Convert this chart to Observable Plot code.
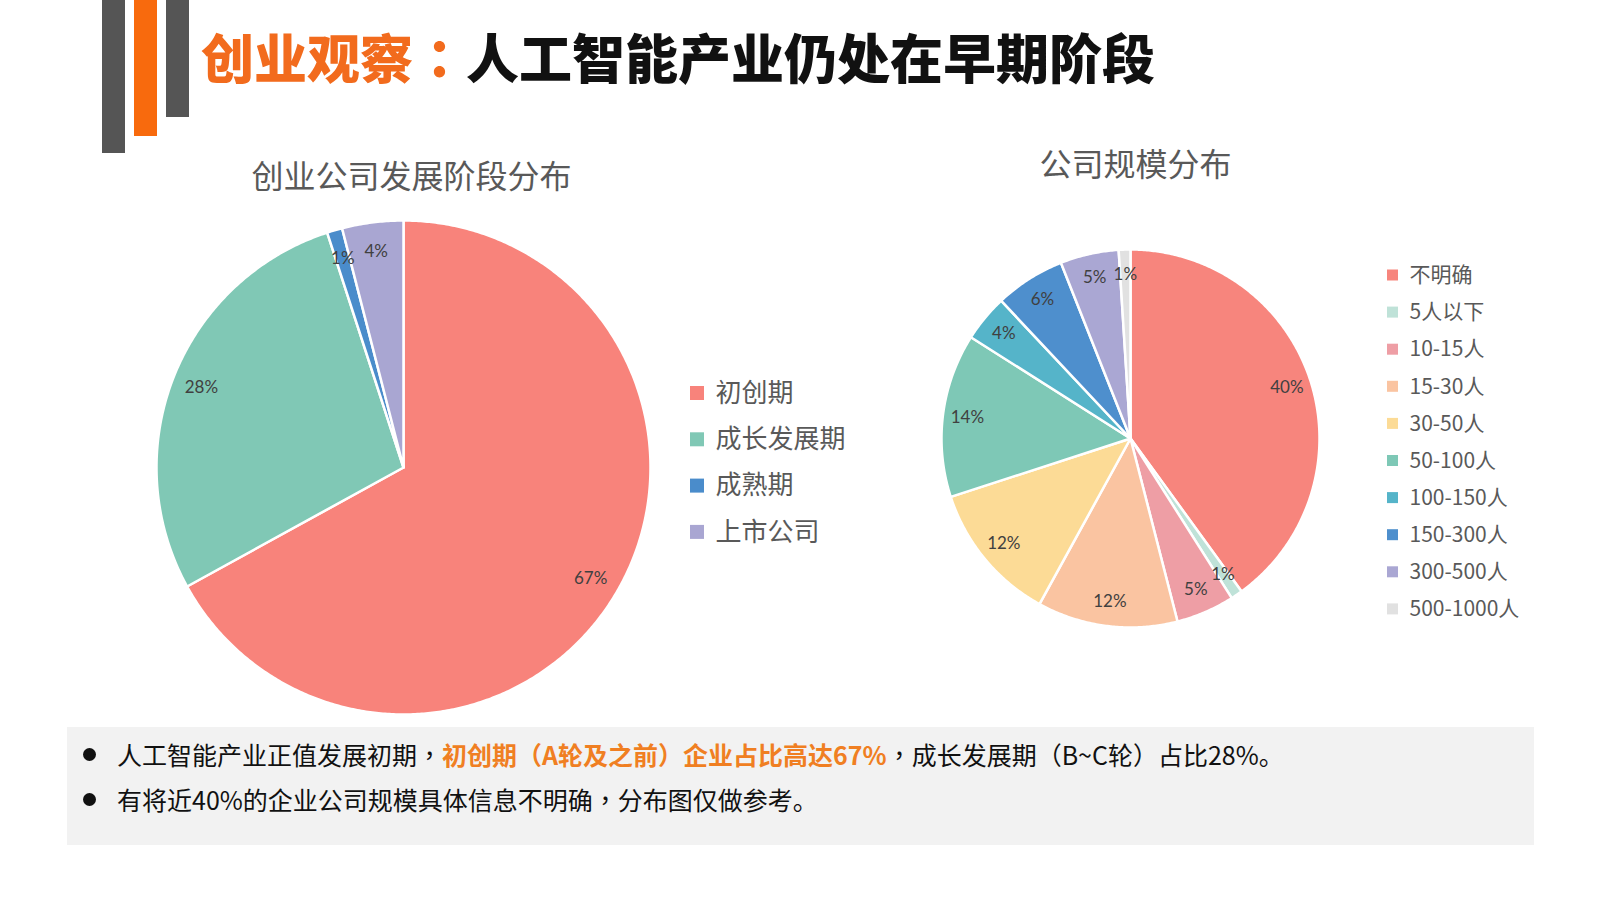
<!DOCTYPE html>
<html>
<head>
<meta charset="utf-8">
<script src="https://cdn.jsdelivr.net/npm/d3@7"></script>
<script src="https://cdn.jsdelivr.net/npm/@observablehq/plot@0.6"></script>
<style>
  html, body { margin: 0; padding: 0; }
  body { width: 1600px; height: 900px; background: #ffffff; position: relative; overflow: hidden;
         font-family: "Noto Sans CJK SC", "Noto Sans", sans-serif; }
  .bar { position: absolute; top: 0; }
  #title { position: absolute; left: 201px; top: 30px; font-size: 53px; line-height: 53px; font-weight: 900;
           color: #111111; white-space: nowrap; letter-spacing: 0px; }
  #title .o { color: #f26b1d; }
  .p { font-family: "Noto Sans CJK TC", "Noto Sans CJK SC", sans-serif; }
  #chart { position: absolute; left: 0; top: 0; }
  #box { position: absolute; left: 67px; top: 727px; width: 1467px; height: 118px; background: #f2f2f2; }
  .line { position: absolute; left: 117px; font-size: 25px; line-height: 30px; color: #111111; white-space: nowrap; }
  .line b { color: #f07f22; font-weight: 700; }
  .dot { position: absolute; left: 83px; width: 13px; height: 13px; border-radius: 50%; background: #111; }
</style>
</head>
<body>
<div class="bar" style="left:102px;width:23px;height:153px;background:#555555"></div>
<div class="bar" style="left:134px;width:23px;height:136px;background:#f86a0d"></div>
<div class="bar" style="left:166px;width:23px;height:117px;background:#555555"></div>
<div id="title"><span class="o">创业观察<span class="p">：</span></span>人工智能产业仍处在早期阶段</div>
<div id="box"></div>
<div class="dot" style="top:748px"></div>
<div class="dot" style="top:793px"></div>
<div class="line" style="top:739px">人工智能产业正值发展初期<span class="p">，</span><b>初创期（A轮及之前）企业占比高达67%</b><span class="p">，</span>成长发展期（B~C轮）占比28%。</div>
<div class="line" style="top:784px">有将近40%的企业公司规模具体信息不明确<span class="p">，</span>分布图仅做参考。</div>
<div id="chart"></div>
<script>
// ---- data ----
const stageTitle = "创业公司发展阶段分布";
const stageNames = ["初创期", "成长发展期", "成熟期", "上市公司"];
const stageShares = [67, 28, 1, 4];
const stageColors = ["#f8837b", "#80c8b5", "#4a8ccb", "#a9a6d2"];

const sizeTitle = "公司规模分布";
const sizeNames = ["不明确", "5人以下", "10-15人", "15-30人", "30-50人", "50-100人", "100-150人", "150-300人", "300-500人", "500-1000人"];
const sizeShares = [40, 1, 5, 12, 12, 14, 4, 6, 5, 1];
const sizeColors = ["#f7857d", "#bfe2d8", "#ee9ea5", "#fac4a1", "#fcdb96", "#7ec8b6", "#55b4c9", "#4e8fcd", "#aaa7d3", "#e1e1e1"];

// ---- layout ----
const L = {cx: 403, cy: 467, r: 247};
const R = {cx: 1130, cy: 438, r: 189};

function slicePoints(names, values, c) {
  const arcs = d3.pie().sort(null).value(d => d)(values);
  const pts = [];
  arcs.forEach((a, i) => {
    pts.push({name: names[i], x: c.cx, y: c.cy});
    const n = Math.max(2, Math.ceil((a.endAngle - a.startAngle) / (Math.PI / 360)));
    for (let k = 0; k <= n; k++) {
      const t = a.startAngle + (a.endAngle - a.startAngle) * k / n;
      pts.push({name: names[i], x: c.cx + c.r * Math.sin(t), y: c.cy - c.r * Math.cos(t)});
    }
  });
  return pts;
}
function labelPoints(names, values, c, k) {
  const arcs = d3.pie().sort(null).value(d => d)(values);
  return arcs.map((a, i) => {
    const t = (a.startAngle + a.endAngle) / 2;
    return {name: names[i], label: values[i] + "%", x: c.cx + k * c.r * Math.sin(t), y: c.cy - k * c.r * Math.cos(t)};
  });
}

const leftPts = slicePoints(stageNames, stageShares, L);
const rightPts = slicePoints(sizeNames, sizeShares, R);
const leftLabels = labelPoints(stageNames, stageShares, L, 0.88);
const rightLabels = labelPoints(sizeNames, sizeShares, R, 0.87);

const legL = {x: 690, tx: 715, y0: 393, dy: 46.3, s: 14};
const legR = {x: 1387, tx: 1409, y0: 275, dy: 37.1, s: 11};

const chart = Plot.plot({
  width: 1600, height: 900, margin: 0,
  style: {background: "transparent", fontFamily: "'Noto Sans CJK SC', sans-serif"},
  x: {domain: [0, 1600], range: [0, 1600], axis: null},
  y: {domain: [0, 900], range: [0, 900], axis: null},
  color: {domain: [...stageNames, ...sizeNames], range: [...stageColors, ...sizeColors]},
  marks: [
    Plot.line(leftPts, {x: "x", y: "y", z: "name", fill: "name", stroke: "white", strokeWidth: 2.5, curve: "linear-closed"}),
    Plot.line(rightPts, {x: "x", y: "y", z: "name", fill: "name", stroke: "white", strokeWidth: 2.5, curve: "linear-closed"}),
    Plot.text(leftLabels, {x: "x", y: "y", text: "label", fontSize: 17, fill: "#404040", fontFamily: "Lato, sans-serif"}),
    Plot.text(rightLabels, {x: "x", y: "y", text: "label", fontSize: 17, fill: "#404040", fontFamily: "Lato, sans-serif"}),
    Plot.text([stageTitle], {x: () => 411, y: () => 177, text: d => d, fontSize: 32, fill: "#595959"}),
    Plot.text([sizeTitle], {x: () => 1135, y: () => 165, text: d => d, fontSize: 32, fill: "#595959"}),
    Plot.rect(stageNames, {x1: () => legL.x, x2: () => legL.x + legL.s, y1: (d, i) => legL.y0 + i * legL.dy - legL.s / 2, y2: (d, i) => legL.y0 + i * legL.dy + legL.s / 2, fill: d => d}),
    Plot.text(stageNames, {x: () => legL.tx, y: (d, i) => legL.y0 + i * legL.dy, text: d => d, textAnchor: "start", fontSize: 26, fill: "#595959"}),
    Plot.rect(sizeNames, {x1: () => legR.x, x2: () => legR.x + legR.s, y1: (d, i) => legR.y0 + i * legR.dy - legR.s / 2, y2: (d, i) => legR.y0 + i * legR.dy + legR.s / 2, fill: d => d}),
    Plot.text(sizeNames, {x: () => legR.tx, y: (d, i) => legR.y0 + i * legR.dy, text: d => d, textAnchor: "start", fontSize: 21, fill: "#595959"})
  ]
});
document.getElementById("chart").appendChild(chart);
</script>
</body>
</html>
